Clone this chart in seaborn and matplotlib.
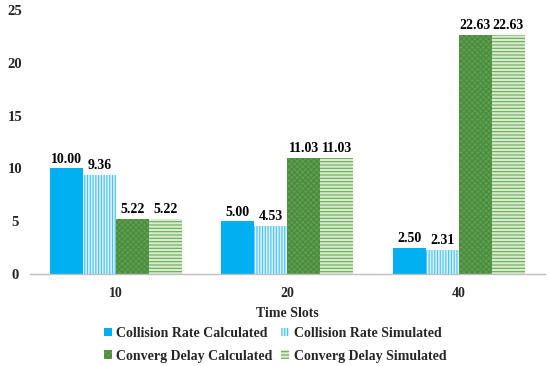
import matplotlib
matplotlib.use("Agg")
import matplotlib.pyplot as plt
import seaborn as sns
import pandas as pd
from matplotlib.patches import Patch

categories = ["10", "20", "40"]
series = ["Collision Rate Calculated", "Collision Rate Simulated",
          "Converg Delay Calculated", "Converg Delay Simulated"]
collision_calc = [10.00, 5.00, 2.50]
collision_sim = [9.36, 4.53, 2.31]
delay_calc = [5.22, 11.03, 22.63]
delay_sim = [5.22, 11.03, 22.63]
yticks = [0, 5, 10, 15, 20, 25]

values = [collision_calc, collision_sim, delay_calc, delay_sim]
rows = []
for s, vals in zip(series, values):
    for c, v in zip(categories, vals):
        rows.append({"Time Slots": c, "series": s, "value": v})
df = pd.DataFrame(rows)

sns.set_theme(style="white")
plt.rcParams["font.family"] = ["Liberation Serif", "DejaVu Serif"]
plt.rcParams["font.weight"] = "bold"
plt.rcParams["hatch.linewidth"] = 0.8

faces = ["#00b0f0", "#d6f1fc", "#5f9e4f", "#d8ebd0"]
edges = ["#00b0f0", "#4cc2f2", "#4a8a3d", "#6aad55"]
hatches = [None, "||||||", "xxxxxx", "-----"]

fig = plt.figure(figsize=(5.5, 3.66), dpi=100)
ax = fig.add_axes([0.055, 0.251, 0.935, 0.722])

sns.barplot(data=df, x="Time Slots", y="value", hue="series", hue_order=series,
            order=categories, ax=ax, width=0.77, legend=False,
            palette=faces, saturation=1)

for i, cont in enumerate(ax.containers):
    for p in cont:
        p.set_facecolor(faces[i])
        p.set_edgecolor(edges[i])
        p.set_linewidth(0)
        if hatches[i]:
            p.set_hatch(hatches[i])
    ax.bar_label(cont, fmt="%.2f", padding=2, fontsize=10, fontweight="bold",
                 color="#000000")

ax.set_ylim(0, 25)
ax.set_yticks(yticks)
ax.set_yticklabels([str(t) for t in yticks], fontsize=10.5, fontweight="bold",
                   ha="center")
ax.tick_params(axis="x", labelsize=10, length=0, pad=9)
ax.tick_params(axis="y", length=0, pad=11)
for lab in ax.get_xticklabels():
    lab.set_fontweight("bold")
ax.set_xlabel("Time Slots", fontsize=10, fontweight="bold", labelpad=5)
ax.set_ylabel("")
for s in ["top", "right", "left"]:
    ax.spines[s].set_visible(False)
ax.spines["bottom"].set_color("#bfbfbf")
ax.spines["bottom"].set_linewidth(1)

handles = [Patch(facecolor=faces[i], edgecolor=edges[i], linewidth=0,
                 hatch=hatches[i]) for i in range(4)]
order = [0, 2, 1, 3]
fig.legend([handles[i] for i in order], [series[i] for i in order],
           loc="center", bbox_to_anchor=(0.5, 0.058), ncol=2,
           frameon=False, handlelength=0.6, handleheight=0.6,
           handletextpad=0.3, columnspacing=0.6, labelspacing=0.7,
           prop={"weight": "bold", "size": 10})

fig.savefig("out.png", dpi=100)
